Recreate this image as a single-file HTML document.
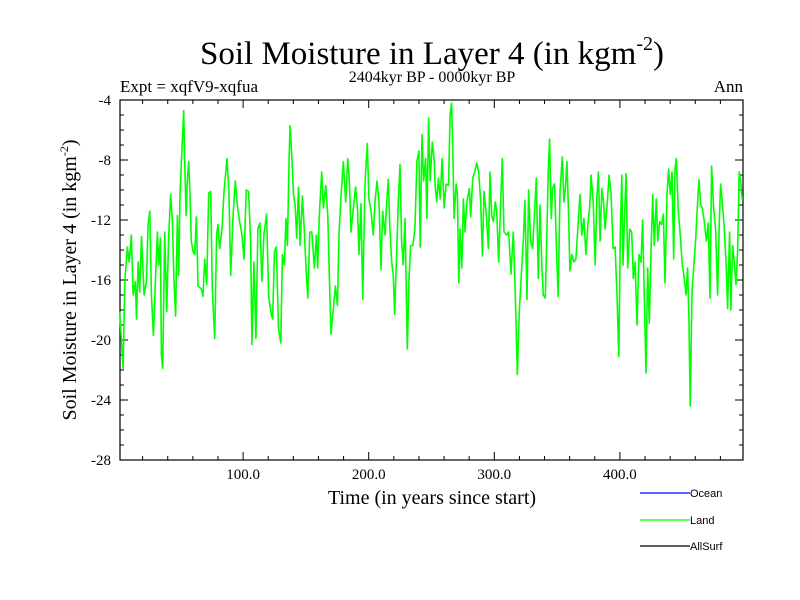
<!DOCTYPE html>
<html><head><meta charset="utf-8"><style>
body{margin:0;background:#fff;}
svg{display:block;}
text{font-family:"Liberation Serif",serif;fill:#000;}
.leg{font-family:"Liberation Sans",sans-serif;font-size:11px;}
</style></head><body>
<svg id="chart" width="800" height="600" viewBox="0 0 800 600">
<rect width="800" height="600" fill="#fff"/>
<text x="432" y="64" font-size="33" text-anchor="middle">Soil Moisture in Layer 4 (in kgm<tspan font-size="20" dy="-14">-2</tspan><tspan dy="14">)</tspan></text>
<text x="120" y="92" font-size="17">Expt = xqfV9-xqfua</text>
<text x="432" y="82" font-size="16" text-anchor="middle">2404kyr BP - 0000kyr BP</text>
<text x="743" y="92" font-size="17" text-anchor="end">Ann</text>
<text transform="translate(76,280) rotate(-90)" font-size="20" text-anchor="middle">Soil Moisture in Layer 4 (in kgm<tspan font-size="12" dy="-8">-2</tspan><tspan dy="8">)</tspan></text>
<text x="432" y="504" font-size="20" text-anchor="middle">Time (in years since start)</text>
<g id="axes"></g>
<g id="series"></g>
<g>
<line x1="640" y1="493" x2="690" y2="493" stroke="#0000ff" stroke-width="1.3"/>
<text class="leg" x="690" y="497">Ocean</text>
<line x1="640" y1="520" x2="690" y2="520" stroke="#00ff00" stroke-width="1.3"/>
<text class="leg" x="690" y="524">Land</text>
<line x1="640" y1="546" x2="690" y2="546" stroke="#000" stroke-width="1.3"/>
<text class="leg" x="690" y="550">AllSurf</text>
</g>
</svg>
<script>
const xTicks = [100, 200, 300, 400];
const xTickLabels = ["100.0", "200.0", "300.0", "400.0"];
const yTicks = [-4, -8, -12, -16, -20, -24, -28];
const yTickLabels = ["-4", "-8", "-12", "-16", "-20", "-24", "-28"];
const years = [1.8,4.5,5.8,7.9,9.3,11.1,12.4,14.3,15.1,16.4,17.7,19.1,21.2,23.0,24.4,25.7,27.0,28.6,30.2,31.8,32.8,34.2,35.0,36.0,37.6,39.2,40.8,42.4,43.7,45.0,46.3,47.7,48.7,49.8,50.9,52.7,53.5,54.6,55.6,56.7,57.7,58.8,60.1,61.5,62.8,64.1,66.8,68.1,69.4,71.0,72.6,74.2,75.5,77.4,78.9,80.0,81.3,83.2,84.8,87.2,88.7,90.1,91.9,93.8,95.4,97.2,99.1,100.7,102.5,104.4,106.0,107.0,108.6,110.2,111.8,113.4,115.0,116.6,118.7,120.3,122.4,123.5,125.0,126.4,
128.2,130.0,131.3,132.9,134.2,135.3,136.6,137.4,138.8,140.1,141.4,142.7,144.1,145.4,147.2,148.8,150.1,151.5,153.1,154.7,156.8,158.4,159.4,160.7,162.6,163.9,165.8,167.4,168.7,170.0,171.9,173.5,175.1,176.4,178.0,179.8,181.7,183.3,184.6,185.9,187.8,189.6,191.2,192.3,193.9,195.2,197.1,198.9,200.2,201.8,203.7,205.0,206.6,208.2,209.8,211.1,213.0,214.5,215.6,216.9,218.3,219.6,220.6,222.2,223.6,224.9,226.2,227.5,228.9,230.7,232.0,233.4,235.2,236.8,238.4,240.0,241.0,242.4,243.7,245.3,246.3,247.7,249.0,250.6,252.2,
252.9,254.2,255.5,256.9,258.4,260.0,261.6,263.5,264.8,265.9,266.9,268.0,269.6,270.6,271.7,272.8,274.1,275.4,276.7,278.1,280.2,281.2,282.8,284.4,286.0,287.6,289.2,290.5,291.8,293.4,295.3,296.6,297.9,299.3,300.8,301.9,303.5,305.1,306.4,307.7,309.9,311.4,313.3,315.1,316.7,318.3,319.9,321.5,323.1,324.4,326.0,327.3,328.9,330.5,332.1,333.4,335.0,336.4,337.9,339.0,340.6,341.7,343.0,344.0,345.4,346.4,348.0,349.6,350.9,352.3,354.1,355.4,356.8,357.8,359.1,360.2,361.8,363.4,365.0,366.3,368.2,369.7,371.3,372.9,374.5,
376.0,377.1,378.7,380.3,381.6,382.9,384.2,385.6,386.9,388.2,389.8,391.4,393.0,394.6,396.2,397.7,399.1,400.4,401.5,402.5,403.8,404.9,406.2,407.8,409.4,410.7,412.1,413.6,415.2,416.8,418.1,419.5,420.8,422.1,423.4,424.8,426.1,427.4,429.0,430.1,431.7,433.3,434.6,435.9,437.5,438.8,440.1,441.5,442.8,443.9,444.9,446.5,448.1,449.7,451.3,452.6,453.9,455.0,456.0,457.4,458.7,460.3,461.6,462.9,464.3,465.6,467.2,468.8,470.4,471.7,473.0,474.6,476.2,477.8,479.1,480.2,481.5,483.1,484.7,485.7,487.3,488.4,489.7,491.0,492.4,493.7,495.0,496.1,497.4];
const landValues = [-18.1,-21.9,-16.1,-13.8,-14.8,-13.0,-17.0,-16.1,-18.6,-14.8,-16.8,-13.1,-17.0,-16.1,-12.3,-11.4,-17.0,-19.7,-16.1,-12.8,-15.0,-13.2,-21.0,-21.9,-12.8,-18.1,-13.0,-10.3,-12.1,-16.1,-18.4,-11.7,-15.7,-10.3,-8.1,-4.7,-8.1,-11.7,-9.4,-8.1,-10.3,-13.4,-14.1,-14.3,-11.8,-16.4,-16.6,-17.1,-14.6,-16.3,-10.2,-10.1,-16.6,-19.9,-13.0,-12.3,-13.9,-12.6,-10.1,-7.9,-10.1,-15.7,-11.9,-9.4,-11.0,-12.1,-13.0,-14.6,-10.0,-10.1,-13.4,-20.3,-14.8,-19.9,-12.6,-12.2,-16.1,-13.0,-11.6,-17.0,-18.3,-18.6,-14.1,-13.8,
-19.2,-20.2,-14.3,-15.0,-11.9,-13.7,-7.9,-5.7,-7.7,-10.3,-11.0,-13.2,-9.8,-13.7,-10.4,-12.8,-15.2,-17.2,-12.8,-12.8,-15.2,-13.0,-15.2,-11.7,-8.8,-11.2,-9.7,-11.7,-15.9,-19.6,-17.9,-16.4,-17.7,-12.8,-10.3,-8.1,-10.8,-7.9,-9.4,-12.8,-11.2,-9.8,-11.4,-14.3,-10.9,-17.3,-9.4,-6.9,-10.6,-11.4,-13.0,-10.8,-9.4,-10.8,-15.3,-11.4,-13.0,-10.6,-9.3,-12.6,-14.8,-15.7,-18.3,-14.3,-10.8,-8.3,-13.4,-15.0,-11.9,-20.6,-16.1,-13.7,-13.7,-12.6,-8.1,-7.4,-13.8,-6.3,-9.4,-7.9,-11.9,-5.2,-9.4,-6.8,-8.1,
-9.7,-10.8,-9.2,-10.6,-7.9,-11.2,-9.6,-9.7,-5.0,-4.2,-7.0,-11.9,-9.6,-10.3,-16.2,-12.6,-15.2,-10.6,-12.8,-10.8,-9.9,-11.8,-9.2,-8.8,-8.2,-8.8,-10.8,-14.4,-10.1,-11.4,-13.9,-8.8,-11.7,-12.1,-10.8,-11.4,-14.8,-10.8,-7.9,-12.8,-13.0,-12.8,-15.6,-12.8,-17.0,-22.3,-18.1,-15.7,-13.4,-10.7,-17.3,-10.0,-13.4,-13.9,-11.4,-9.2,-15.9,-11.0,-15.2,-17.0,-17.2,-13.4,-8.6,-6.6,-11.9,-9.9,-9.6,-14.3,-17.1,-10.1,-7.8,-10.8,-9.7,-8.1,-11.4,-15.4,-14.3,-14.8,-14.6,-12.8,-10.3,-13.0,-11.9,-14.3,-12.3,
-11.0,-9.0,-10.8,-15.0,-10.6,-8.8,-13.4,-9.9,-10.8,-12.6,-11.0,-9.0,-10.3,-13.9,-13.8,-17.0,-21.1,-12.6,-9.0,-15.0,-11.4,-8.9,-15.2,-12.6,-12.8,-15.9,-14.8,-19.0,-14.3,-14.8,-12.0,-17.4,-22.2,-15.2,-18.9,-13.9,-10.3,-13.7,-10.6,-13.4,-12.1,-12.3,-11.6,-16.2,-10.3,-8.6,-10.3,-8.8,-14.6,-8.6,-7.9,-11.4,-13.0,-15.0,-15.9,-17.0,-15.2,-18.8,-24.4,-16.8,-15.2,-13.4,-11.2,-9.3,-11.0,-11.2,-12.1,-13.4,-12.2,-17.2,-8.4,-11.2,-12.6,-17.0,-12.1,-9.6,-10.8,-12.6,-15.2,-17.9,-12.8,-18.0,-13.7,-14.8,-16.3,-14.1,-8.8,-9.4,-10.6];

const PL=120, PR=743, PT=100, PB=460, XMIN=2, XMAX=498, YMIN=-28, YMAX=-4;
function xScale(v){return PL+(v-XMIN)/(XMAX-XMIN)*(PR-PL);}
function yScale(v){return PB-(v-YMIN)/(YMAX-YMIN)*(PB-PT);}
const NS="http://www.w3.org/2000/svg";
const axes=document.getElementById('axes');
function mk(tag,attrs,parent){const e=document.createElementNS(NS,tag);for(const k in attrs)e.setAttribute(k,attrs[k]);parent.appendChild(e);return e;}

const frame=mk('rect',{x:PL,y:PT,width:PR-PL,height:PB-PT,fill:'none',stroke:'#000','stroke-width':1.2},axes);



for(let v=20; v<XMAX; v+=20){
  const major = xTicks.indexOf(v)>=0;
  const L = major?8:4;
  const x=xScale(v);
  const t1=mk('line',{x1:x,y1:PB,x2:x,y2:PB-L,stroke:'#000','stroke-width':1},axes);
  
  
  const t2=mk('line',{x1:x,y1:PT,x2:x,y2:PT+L,stroke:'#000','stroke-width':1},axes);
  
  
}
xTicks.forEach((v,i)=>{
  const t=mk('text',{x:xScale(v),y:PB+19,'font-size':15,'text-anchor':'middle'},axes);
  t.textContent=xTickLabels[i];
  
  
});
for(let v=YMIN; v<=YMAX; v+=1){
  const major = yTicks.indexOf(v)>=0;
  if(v===YMIN||v===YMAX) continue;
  const L = major?8:4;
  const y=yScale(v);
  const t1=mk('line',{x1:PL,y1:y,x2:PL+L,y2:y,stroke:'#000','stroke-width':1},axes);
  
  
  const t2=mk('line',{x1:PR,y1:y,x2:PR-L,y2:y,stroke:'#000','stroke-width':1},axes);
  
  
}
yTicks.forEach((v,i)=>{
  const t=mk('text',{x:PL-9,y:yScale(v)+5,'font-size':15,'text-anchor':'end'},axes);
  t.textContent=yTickLabels[i];
  
  
});

const series=document.getElementById('series');
let d='';
years.forEach((yr,i)=>{d+=(i?'L':'M')+xScale(yr).toFixed(1)+' '+yScale(landValues[i]).toFixed(1);});
const line=mk('path',{d:d,fill:'none',stroke:'#00ff00','stroke-width':1.6,'stroke-linejoin':'round'},series);


</script>
</body></html>
